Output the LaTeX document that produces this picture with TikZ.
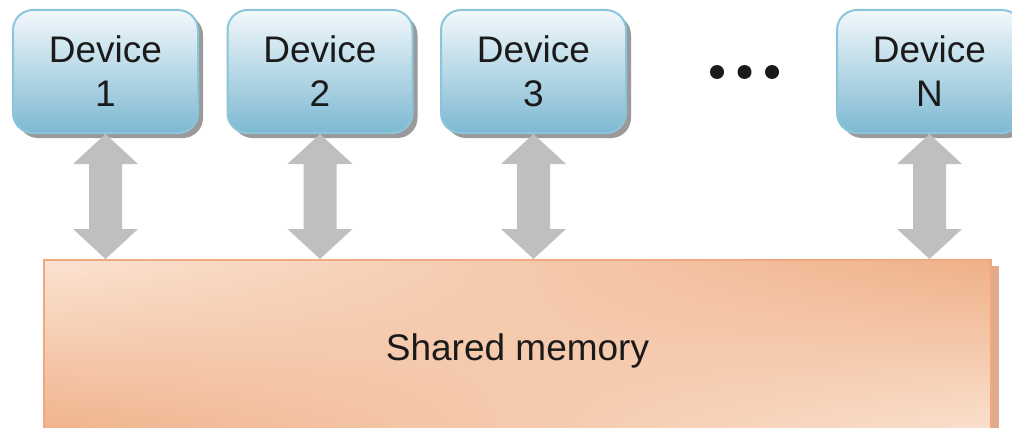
\documentclass[tikz,border=0pt]{standalone}
\usepackage{fontspec}
\setmainfont{Liberation Sans}
\usetikzlibrary{calc,shadows,shadings}
\definecolor{devtop}{HTML}{F2F8FB}
\definecolor{devbot}{HTML}{7DB9D2}
\definecolor{devline}{HTML}{8CC4DB}
\definecolor{devshadow}{HTML}{9A9A9A}
\definecolor{arrowgray}{HTML}{BFBFBF}
\definecolor{memlight}{HTML}{FBE3D2}
\definecolor{memdark}{HTML}{EFB088}
\definecolor{memline}{HTML}{F0A880}
\definecolor{memshadow}{HTML}{E2AA8A}
\definecolor{txt}{HTML}{1A1A1A}
\tikzset{
  device/.style={rounded corners=20pt, draw=devline, line width=2pt,
    top color=devtop, bottom color=devbot, minimum width=185pt, minimum height=123pt,
    inner sep=0pt, align=center, text=txt,
    font=\fontsize{37}{44}\selectfont,
    drop shadow={shadow xshift=5pt, shadow yshift=-5pt, fill=devshadow, opacity=1}},
  memory/.style={draw=memline, line width=2pt,
    upper left=memlight, lower left=memdark, upper right=memdark, lower right=memlight,
    minimum width=947pt, minimum height=181pt, inner sep=0pt, text=txt,
    font=\fontsize{37}{44}\selectfont,
    drop shadow={shadow xshift=8pt, shadow yshift=-6pt, fill=memshadow, opacity=1}},
  dotstyle/.style={circle, fill=txt, minimum size=14pt, inner sep=0pt}
}
\newcommand\fatarrow[2]{\fill[arrowgray] (#1) -- ++(32.5,30) -- ++(-16,0) -- ($(#2)+(16.5,-30)$) -- ++(16,0) -- (#2) -- ++(-32.5,-30) -- ++(16,0) -- ($(#1)+(-16.5,30)$) -- ++(-16,0) -- cycle;}
\begin{document}
\begin{tikzpicture}[x=1pt,y=-1pt]
\useasboundingbox (0,0) rectangle (1012,428);
\node[device] (d1) at (105.5,71.5) {Device\\1};
\node[device] (d2) at (320,71.5) {Device\\2};
\node[device] (d3) at (533.5,71.5) {Device\\3};
\node[device] (dn) at (929.5,71.5) {Device\\N};
\node[dotstyle] (p1) at (717,72) {};
\node[dotstyle] (p2) at (744.5,72) {};
\node[dotstyle] (p3) at (772,72) {};
\node[memory, anchor=north west] (mem) at (43,259) {Shared memory};
\foreach \d in {d1,d2,d3,dn}{
  \coordinate (t\d) at (\d.south);
  \coordinate (b\d) at (\d.south |- mem.north);
  \fatarrow{t\d}{b\d}
}
\end{tikzpicture}
\end{document}
